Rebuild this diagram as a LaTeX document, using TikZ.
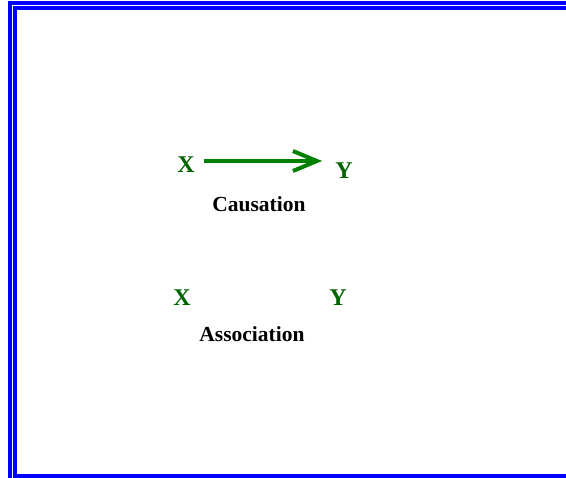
\documentclass[tikz,border=0pt]{standalone}
\usepackage{fontspec}
\setmainfont{Liberation Serif}
\usetikzlibrary{arrows.meta,calc}
\definecolor{framebl}{RGB}{0,0,255}
\definecolor{labgreen}{RGB}{0,100,0}
\definecolor{arrgreen}{RGB}{0,128,0}
\tikzset{
  varlabel/.style={inner sep=0pt, text=labgreen, font=\fontsize{24}{26}\selectfont\bfseries},
  caption/.style={inner sep=0pt, text=black, font=\fontsize{21.5}{23}\selectfont\bfseries},
  framebar/.style={draw=framebl, line width=4.2pt},
  causal/.style={draw=arrgreen, line width=4.2pt, -{Straight Barb[length=24pt,width=20pt,line width=4pt]}}
}
\begin{document}
\begin{tikzpicture}[x=1pt,y=-1pt]
\useasboundingbox (0,0) rectangle (566,478);
\begin{scope}
\clip (0,0) rectangle (566,478);
% double frame, running past the right and bottom edges
\draw[framebar] (10,600) -- (10,3) -- (700,3);
\draw[framebar] (700,476) -- (15,476) -- (15,8) -- (700,8);
\end{scope}
% causation
\node[varlabel] (cx) at (186,165) {X};
\node[varlabel] (cy) at (344,171) {Y};
\node[caption] (cap1) at (259,204) {Causation};
\draw[causal] ($(cx.east)+(9,-4)$) -- ($(cy.west |- cx.east)+(-13,-4)$);
% association
\node[varlabel] (ax) at (182,298) {X};
\node[varlabel] (ay) at (338,298) {Y};
\node[caption] (cap2) at (252,334) {Association};
\end{tikzpicture}
\end{document}
